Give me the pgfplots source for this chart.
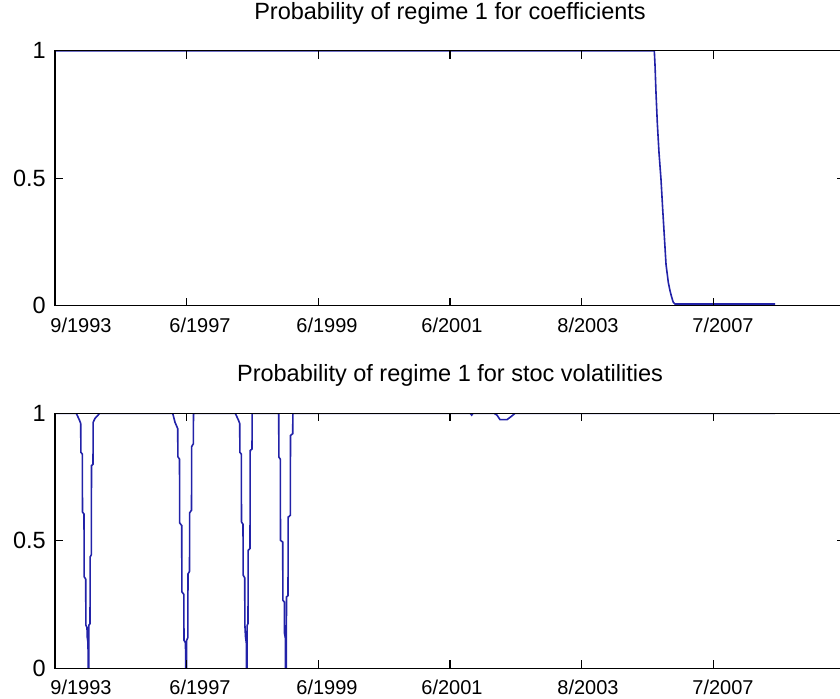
\documentclass[border=0pt]{standalone}
\usepackage{fontspec}
\setmainfont{Liberation Sans}
\usepackage{pgfplots}
\pgfplotsset{compat=1.18}
\definecolor{lineblue}{HTML}{2222A8}

% one px of the reference = 0.5pt
\pgfplotsset{regplot/.style={
  scale only axis,width=395pt,height=127.5pt,
  xmin=55,xmax=845,ymin=0,ymax=1,
  axis on top,clip=true,
  axis line style={black,line width=0.6pt},
  tick style={black,line width=0.6pt},major tick length=4pt,
  tick align=inside,tick pos=both,
  xticklabel pos=lower,yticklabel pos=left,
  xtick={55,186.67,318.33,450,581.67,713.33,845},xticklabels={},
  extra x ticks={81,200,327,452,588,723},
  extra x tick labels={9/1993,6/1997,\raisebox{-0.8pt}{6/1999},6/2001,8/2003,\raisebox{1.5pt}{7/2007}},
  extra x tick style={major tick length=0pt},
  xticklabel style={font=\fontsize{10}{12}\selectfont,yshift=-2.5pt},
  ytick={0,0.5,1},yticklabels={0,0.5,1},
  yticklabel style={font=\fontsize{11.75}{14}\selectfont,xshift=-1.1pt},
  /pgf/number format/assume math mode=true,
  title style={font=\fontsize{11.75}{14}\selectfont,at={(0.5,1)},anchor=base,yshift=9.8pt},
}}

\begin{document}
\begin{tikzpicture}
\begin{axis}[regplot,at={(27.5pt,196.15pt)},anchor=south west,
  title={Probability of regime 1 for coefficients}]
\addplot[lineblue,line width=0.8pt,no marks] coordinates {
(55,1) (654.3,1) (655,0.945) (656,0.834) (657.3,0.717) (659,0.600) (661,0.495)
(662.7,0.378) (664.3,0.274) (666,0.163) (668.3,0.091) (670,0.059) (671.7,0.033)
(673.3,0.013) (675,0.0065) (775,0.0065)};
\end{axis}

\begin{axis}[regplot,at={(27.5pt,14.85pt)},anchor=south west,
  title={Probability of regime 1 for stoc volatilities}]
\addplot[lineblue,line width=0.8pt,no marks] coordinates {
(55,1) (76.3,1) (79.7,0.971) (80.7,0.96) (80.9,0.847) (82.3,0.84) (82.5,0.613)
(84,0.605) (84.2,0.359) (85.7,0.35) (85.9,0.169) (87,0.16) (87.2,0.124) (88,0.1)
(88.2,0) (88.7,0) (88.9,0.169) (90,0.175) (90.2,0.437) (91.3,0.445) (91.5,0.795)
(93,0.80) (93.2,0.965) (95,0.98) (99.7,1)
(172.7,1) (175,0.965) (177.7,0.94) (177.9,0.83) (179.5,0.82) (179.7,0.57)
(181.7,0.56) (181.9,0.30) (183.8,0.29) (184,0.11) (185.5,0.10) (185.7,0)
(186.5,0) (186.7,0.11) (187.8,0.12) (188,0.37) (189.5,0.38) (189.7,0.61)
(191.5,0.62) (191.7,0.87) (193.3,0.88) (193.5,1)
(235.3,1) (238.7,0.971) (239.7,0.96) (239.9,0.847) (241.3,0.84) (241.5,0.574)
(243,0.565) (243.2,0.365) (244.7,0.355) (244.9,0.169) (245.5,0.124) (246.3,0.1)
(246.5,0) (247,0) (247.2,0.169) (248,0.175) (248.2,0.463) (250,0.47)
(250.2,0.854) (252,0.86) (252.2,1)
(278.7,1) (278.9,0.828) (280.3,0.82) (280.5,0.502) (282.7,0.495) (282.9,0.267)
(284.3,0.26) (284.5,0.137) (285.3,0.12) (285.5,0) (286.3,0) (286.5,0.28)
(288,0.285) (288.2,0.593) (290.3,0.6) (290.5,0.913) (292.7,0.92) (292.9,1)
(470,1) (471.7,0.993) (473,1)
(494,1) (497,0.993) (500,0.975) (507,0.975) (512,0.99) (515,1) (775,1)};
\end{axis}

\pgfresetboundingbox
\path[use as bounding box] (0,0) rectangle (420pt,349pt);
\end{tikzpicture}
\end{document}
